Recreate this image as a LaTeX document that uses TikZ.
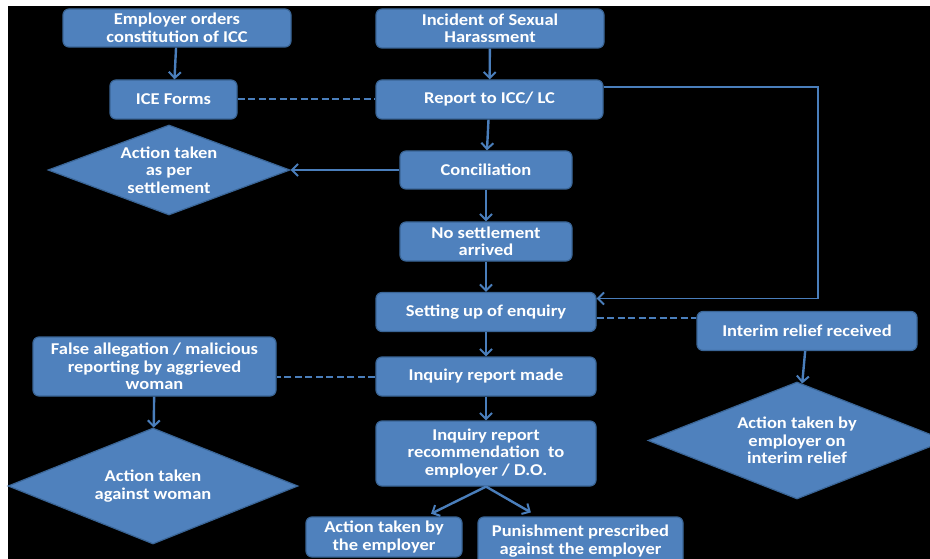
\documentclass[tikz,border=0pt]{standalone}
\usepackage{fontspec}
\setmainfont{Carlito}[FakeStretch=1.12]
\usetikzlibrary{shapes.geometric,arrows.meta}
\definecolor{chartblue}{HTML}{4F81BD}
\definecolor{chartedge}{HTML}{3A6596}
\definecolor{chartline}{HTML}{4A7EBB}

\begin{document}
\begin{tikzpicture}[x=1pt,y=-1pt]
    % Define styles
    \tikzstyle{stepbox} = [rectangle, rounded corners=6pt, draw=chartedge, line width=1.2pt, fill=chartblue, text=white, font=\fontsize{16.5}{17.5}\selectfont\bfseries, align=center, inner sep=0pt]
    \tikzstyle{decision} = [diamond, draw=chartedge, line width=1.2pt, fill=chartblue, text=white, font=\fontsize{16.5}{17.5}\selectfont\bfseries, align=center, inner sep=0pt]
    \tikzstyle{arrow} = [line width=2.4pt, chartline, -{Straight Barb[length=6pt,width=12pt,line width=2pt]}]
    \tikzstyle{thinarrow} = [line width=1.6pt, chartline, -{Straight Barb[length=6pt,width=12pt,line width=2pt]}]
    \tikzstyle{dashline} = [line width=2pt, chartline, dash pattern=on 7pt off 3.5pt]

    % Page and background
    \useasboundingbox (0,0) rectangle (930,559);
    \clip (0,0) rectangle (930,559);
    \fill[black] (8,6) rectangle (930,559);

    % Create nodes in a flow layout
    \node (employer) [stepbox, minimum width=228, minimum height=38] at (177,28) {Employer orders\\constitution of ICC};
    \node (incident) [stepbox, minimum width=228, minimum height=39] at (490,28.5) {Incident of Sexual\\Harassment};
    \node (iceforms) [stepbox, minimum width=127, minimum height=39] at (173.5,99.5) {ICE Forms};
    \node (report) [stepbox, minimum width=227, minimum height=39] at (489.5,99.5) {Report to ICC/ LC};
    \node (settled) [decision, aspect=2.7, minimum width=242, minimum height=90] at (169,170) {Action taken\\as per\\settlement};
    \node (concil) [stepbox, minimum width=172, minimum height=38] at (486,170) {Conciliation};
    \node (nosettle) [stepbox, minimum width=172, minimum height=39] at (486,241.5) {No settlement\\arrived};
    \node (setup) [stepbox, minimum width=220, minimum height=39] at (486,312) {Setting up of enquiry};
    \node (interim) [stepbox, minimum width=220, minimum height=39] at (807,331) {Interim relief received};
    \node (falsealleg) [stepbox, minimum width=243, minimum height=59] at (154.5,366.5) {False allegation / malicious\\reporting by aggrieved\\woman};
    \node (made) [stepbox, minimum width=220, minimum height=39] at (486,376.5) {Inquiry report made};
    \node (recomm) [stepbox, minimum width=220, minimum height=65] at (486,453.5) {Inquiry report\\recommendation \ to\\employer / D.O.};
    \node (woman) [decision, aspect=2.5, minimum width=290, minimum height=116] at (153,486) {Action taken\\against woman};
    \node (relief) [decision, aspect=2.5, minimum width=298, minimum height=117] at (797,440.5) {Action taken by\\employer on\\interim relief};
    \node (empaction) [stepbox, minimum width=156, minimum height=40] at (384,537) {Action taken by\\the employer};
    \node (punish) [stepbox, minimum width=205, minimum height=48] at (580.5,541) {Punishment prescribed\\against the employer};
    \coordinate (loop) at (818,200);

    % Draw dependencies
    \draw [arrow] (employer) -- (iceforms);
    \draw [arrow] (incident) -- (report);
    \draw [dashline] (iceforms) -- (report);
    \draw [arrow] (report) -- (concil);
    \draw [thinarrow] ([yshift=12.5pt]report.east) -| (loop) |- ([yshift=13.5pt]setup.east);
    \draw [arrow] (concil) -- (settled);
    \draw [arrow] (concil) -- (nosettle);
    \draw [arrow] (nosettle) -- (setup);
    \draw [dashline] ([yshift=-6pt]setup.east) -- ([yshift=-6pt]setup.east -| interim.west);
    \draw [arrow] (interim) -- (relief);
    \draw [arrow] (setup) -- (made);
    \draw [dashline] (made.west) -- (made.west -| falsealleg.east);
    \draw [arrow] (falsealleg) -- (woman);
    \draw [arrow] (made) -- (recomm);
    \draw [arrow, shorten >=6pt] (recomm.south) -- (empaction);
    \draw [arrow, shorten >=8pt] (recomm.south) -- (punish);
\end{tikzpicture}
\end{document}
